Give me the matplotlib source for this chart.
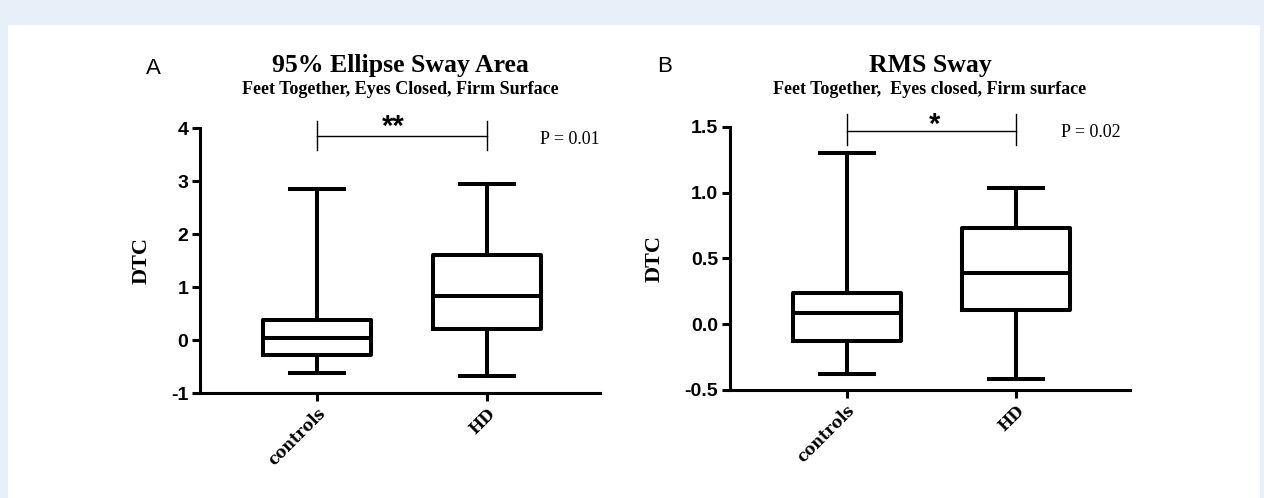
import matplotlib
matplotlib.use("Agg")
import matplotlib.pyplot as plt
from matplotlib.patches import Rectangle

# ---------------- data ----------------
groups = ["controls", "HD"]

# Panel A: 95% Ellipse Sway Area (DTC)
a_whislo = [-0.62, -0.68]
a_q1 = [-0.29, 0.20]
a_med = [0.03, 0.83]
a_q3 = [0.38, 1.60]
a_whishi = [2.85, 2.95]
a_yticks = [-1, 0, 1, 2, 3, 4]
a_yticklabels = ["-1", "0", "1", "2", "3", "4"]

# Panel B: RMS Sway (DTC)
b_whislo = [-0.375, -0.418]
b_q1 = [-0.13, 0.105]
b_med = [0.085, 0.385]
b_q3 = [0.24, 0.73]
b_whishi = [1.30, 1.035]
b_yticks = [-0.5, 0.0, 0.5, 1.0, 1.5]
b_yticklabels = ["-0.5", "0.0", "0.5", "1.0", "1.5"]

W, H = 1264, 498
fig = plt.figure(figsize=(W / 100, H / 100), dpi=100)
fig.patch.set_facecolor("#e7f0f9")
fig.add_artist(Rectangle((8 / W, 0), (1260 - 8) / W, (H - 25) / H,
                         transform=fig.transFigure, facecolor="white",
                         edgecolor="none", zorder=0))

SERIF = "Liberation Serif"
SANS = "Liberation Sans"


def panel(rect, whislo, q1, med, q3, whishi, yticks, yticklabels, ylim, xlim,
          letter, letter_xy, title, subtitle, title_y, sub_y,
          br_y, br_lo, br_hi, star, star_xy, ptext, p_xy, ylab_x):
    ax = fig.add_axes(rect)
    ax.set_facecolor("none")
    stats = []
    for i, g in enumerate(groups):
        stats.append(dict(label=g, whislo=whislo[i], q1=q1[i], med=med[i],
                          q3=q3[i], whishi=whishi[i], fliers=[]))
    lw = 2.9
    ax.bxp(stats, positions=[1, 2], widths=0.64, capwidths=0.32,
           showfliers=False,
           boxprops=dict(color="black", linewidth=lw),
           whiskerprops=dict(color="black", linewidth=lw),
           capprops=dict(color="black", linewidth=lw),
           medianprops=dict(color="black", linewidth=lw))
    ax.set_ylim(*ylim)
    ax.set_xlim(*xlim)
    ax.set_yticks(yticks)
    ax.set_yticklabels(yticklabels, fontfamily=SANS, fontweight="bold",
                       fontsize=14)
    ax.set_xticks([1, 2])
    ax.set_xticklabels(groups, rotation=45, ha="right",
                       rotation_mode="anchor", fontfamily="DejaVu Serif",
                       fontweight="bold", fontsize=11.5)
    for s in ["top", "right"]:
        ax.spines[s].set_visible(False)
    for s in ["left", "bottom"]:
        ax.spines[s].set_linewidth(2.2)
    ax.tick_params(axis="both", direction="out", length=5.5, width=2.2,
                   pad=3)
    ax.set_ylabel("DTC", fontfamily=SERIF, fontweight="bold", fontsize=16)
    ax.yaxis.set_label_coords(ylab_x, 0.5)

    # significance bracket
    ax.plot([1, 2], [br_y, br_y], color="black", lw=1.0, clip_on=False)
    for xx in (1, 2):
        ax.plot([xx, xx], [br_lo, br_hi], color="black", lw=1.0,
                clip_on=False)
    ax.text(star_xy[0], star_xy[1], star, ha="center", va="baseline",
            fontfamily=SANS, fontweight="bold", fontsize=21, clip_on=False)
    ax.text(p_xy[0], p_xy[1], ptext, ha="center", va="center",
            fontfamily=SERIF, fontsize=13, clip_on=False)

    cx = rect[0] + rect[2] / 2
    fig.text(cx, title_y, title, ha="center", va="center",
             fontfamily=SERIF, fontweight="bold", fontsize=18.5)
    fig.text(cx, sub_y, subtitle, ha="center", va="center",
             fontfamily=SERIF, fontweight="bold", fontsize=13)
    fig.text(letter_xy[0], letter_xy[1], letter, ha="center", va="center",
             fontfamily=SANS, fontsize=16)
    return ax


panel([200 / W, (H - 393) / H, 400 / W, (393 - 128) / H],
      a_whislo, a_q1, a_med, a_q3, a_whishi, a_yticks, a_yticklabels,
      (-1, 4), (0.312, 2.665),
      "A", (153 / W, 1 - 68 / H),
      "95% Ellipse Sway Area", "Feet Together, Eyes Closed, Firm Surface",
      1 - 65 / H, 1 - 90 / H,
      3.85, 3.58, 4.13, "**", (1.45, 3.865), "P = 0.01", (2.49, 3.79),
      -0.12)

panel([730 / W, (H - 390) / H, 400 / W, (390 - 126.7) / H],
      b_whislo, b_q1, b_med, b_q3, b_whishi, b_yticks, b_yticklabels,
      (-0.5, 1.5), (0.31, 2.676),
      "B", (665 / W, 1 - 67 / H),
      "RMS Sway", "Feet Together,  Eyes closed, Firm surface",
      1 - 65 / H, 1 - 90 / H,
      1.468, 1.36, 1.595, "*", (1.52, 1.45), "P = 0.02", (2.445, 1.458),
      -0.1625)

fig.savefig("out.png", dpi=100, facecolor=fig.get_facecolor())
